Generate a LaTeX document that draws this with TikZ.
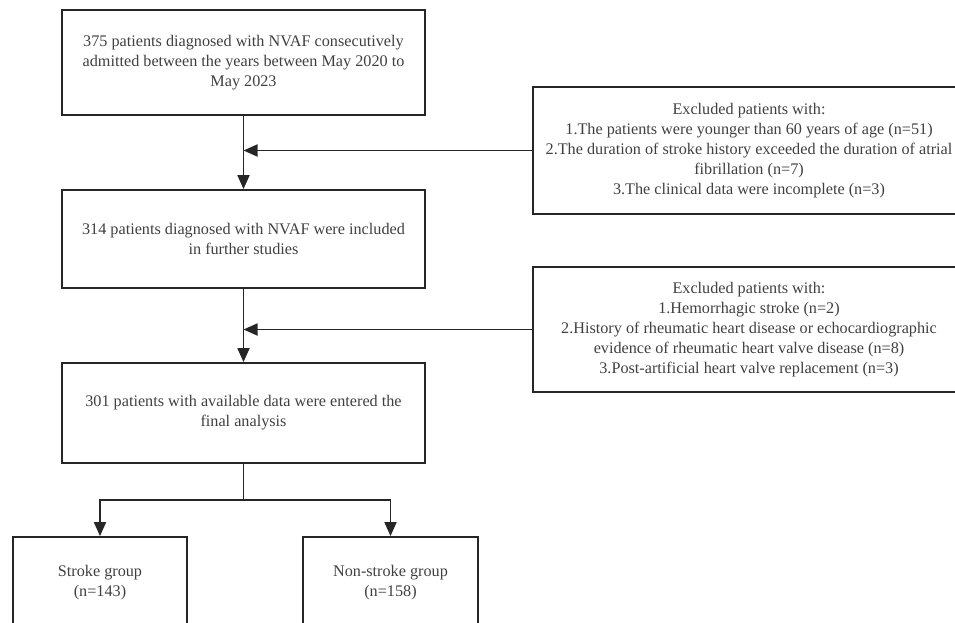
\documentclass[tikz,border=0pt]{standalone}
\usepackage{fontspec}
\setmainfont{Liberation Serif}
\usetikzlibrary{arrows.meta}

\begin{document}
\begin{tikzpicture}
[x=1pt,y=-1pt,
box/.style={rectangle,draw=black!85,line width=1.8pt,align=center,inner sep=0pt,text=black!75,font=\fontsize{16.2}{20}\selectfont},
line/.style={draw=black!85,line width=1.8pt},
arr/.style={line,-{Triangle[length=14pt,width=12pt]}}]
\useasboundingbox (0,0) rectangle (955,623);
\clip (0,0) rectangle (955,623);
\node[box,minimum width=363,minimum height=105] (all) at (243.5,62.5){375 patients diagnosed with NVAF consecutively\\admitted between the years between May 2020 to\\May 2023};
\node[box,minimum width=363,minimum height=98] (incl) at (243.5,239){314 patients diagnosed with NVAF were included\\in further studies};
\node[box,minimum width=363,minimum height=100] (final) at (243.5,413){301 patients with available data were entered the\\final analysis};
\node[box,minimum width=432,minimum height=127] (ex1) at (749,150.5){Excluded patients with:\\1.The patients were younger than 60 years of age (n=51)\\2.The duration of stroke history exceeded the duration of atrial\\fibrillation (n=7)\\3.The clinical data were incomplete (n=3)};
\node[box,minimum width=432,minimum height=125] (ex2) at (749,329.5){Excluded patients with:\\1.Hemorrhagic stroke (n=2)\\2.History of rheumatic heart disease or echocardiographic\\evidence of rheumatic heart valve disease (n=8)\\3.Post-artificial heart valve replacement (n=3)};
\node[box,minimum width=174,minimum height=92] (stroke) at (100,583){Stroke group\\(n=143)};
\node[box,minimum width=175,minimum height=92] (nonstroke) at (390.5,583){Non-stroke group\\(n=158)};
\coordinate (j1) at (all.south |- ex1.west);
\coordinate (j2) at (incl.south |- ex2.west);
\coordinate (split) at (243.5,500);
\draw[arr] (all)--(incl);
\draw[arr] (incl)--(final);
\draw[arr] (ex1.west)--(j1);
\draw[arr] (ex2.west)--(j2);
\draw[line] (final.south)--(split);
\draw[arr] (split)-|(stroke.north);
\draw[arr] (split)-|(nonstroke.north);
\end{tikzpicture}
\end{document}
